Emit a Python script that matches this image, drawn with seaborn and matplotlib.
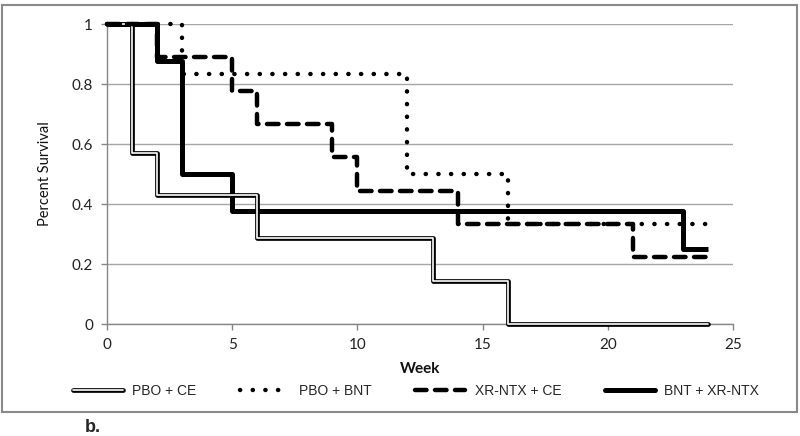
import matplotlib
matplotlib.use("Agg")
import matplotlib.pyplot as plt
import matplotlib.patches as mpatches
import numpy as np
import pandas as pd
import seaborn as sns

# step change points (week, survival) per group
pbo_ce_week = [0, 1, 2, 6, 13, 16, 24]
pbo_ce_surv = [1, 0.571, 0.429, 0.286, 0.143, 0, 0]

pbo_bnt_week = [0, 3, 12, 16, 24]
pbo_bnt_surv = [1, 0.833, 0.5, 0.333, 0.333]

xr_ce_week = [0, 2, 5, 6, 9, 10, 14, 21, 24]
xr_ce_surv = [1, 0.889, 0.778, 0.667, 0.556, 0.444, 0.333, 0.222, 0.222]

bnt_xr_week = [0, 2, 3, 5, 23, 24]
bnt_xr_surv = [1, 0.875, 0.5, 0.375, 0.25, 0.25]

labels = ["PBO + CE", "PBO + BNT", "XR-NTX + CE", "BNT + XR-NTX"]
x_ticks = [0, 5, 10, 15, 20, 25]
y_ticks = [0, 0.2, 0.4, 0.6, 0.8, 1]

GRID = "#a6a6a6"
SPINE = "#868686"
TICK_FONT = ["Lato", "DejaVu Sans"]
LEG_FONT = ["Liberation Sans Narrow", "Liberation Sans", "DejaVu Sans"]

DOT = (0, (0.05, 2.8))
DASH = (0, (2.6, 1.9))

sns.set_theme(style="white")
plt.rcParams["font.family"] = TICK_FONT


def frame(week, surv):
    return pd.DataFrame({"week": week, "surv": surv})


fig = plt.figure(figsize=(8, 4.36), dpi=100)
ax = fig.add_axes([107 / 800, 1 - 324 / 436, 626 / 800, 300 / 436])

common = dict(x="week", y="surv", ax=ax, estimator=None, drawstyle="steps-post",
              clip_on=False, legend=False)

# solid thick (drawn first, lies underneath)
sns.lineplot(data=frame(bnt_xr_week, bnt_xr_surv), color="black", lw=3.6,
             solid_capstyle="butt", zorder=3, **common)
# double line: black outline + white core
sns.lineplot(data=frame(pbo_ce_week, pbo_ce_surv), color="black", lw=3.4,
             zorder=4, **common)
sns.lineplot(data=frame(pbo_ce_week, pbo_ce_surv), color="white", lw=1.2,
             zorder=4.1, **common)
sns.lineplot(data=frame(pbo_bnt_week, pbo_bnt_surv), color="black", lw=3.2,
             linestyle=DOT, dash_capstyle="round", zorder=5, **common)
sns.lineplot(data=frame(xr_ce_week, xr_ce_surv), color="black", lw=3.2,
             linestyle=DASH, dash_capstyle="round", zorder=5, **common)

ax.set_xlim(0, 25)
ax.set_ylim(0, 1)
ax.set_xticks(x_ticks)
ax.set_yticks(y_ticks)
ax.set_yticklabels(["0", "0.2", "0.4", "0.6", "0.8", "1"])
ax.yaxis.grid(True, color=GRID, lw=1)
ax.xaxis.grid(False)
ax.set_axisbelow(True)
for side in ["top", "right"]:
    ax.spines[side].set_visible(False)
for side in ["left", "bottom"]:
    ax.spines[side].set_color(SPINE)
    ax.spines[side].set_linewidth(1)
ax.tick_params(axis="both", which="both", direction="out", length=4, width=1,
               color=SPINE, labelsize=11, labelcolor="#222222", pad=6,
               left=True, bottom=True)

ax.set_xlabel("Week", fontsize=11, fontweight="bold", color="#111111")
ax.xaxis.set_label_coords(0.5, -0.15)
ax.xaxis.label.set_va("center")
ax.set_ylabel("Percent Survival", fontsize=10.5, color="#111111")
ax.yaxis.set_label_coords(-0.099, 0.5)
ax.yaxis.label.set_va("center")

# legend handles
h_out = plt.Line2D([], [], color="black", lw=3.4)
h_in = plt.Line2D([], [], color="white", lw=1.2)
h_dot = plt.Line2D([], [], color="black", lw=3.2, linestyle=DOT,
                   dash_capstyle="round")
h_dash = plt.Line2D([], [], color="black", lw=3.2, linestyle=DASH,
                    dash_capstyle="round")
h_solid = plt.Line2D([], [], color="black", lw=3.6)
fig.legend([(h_out, h_in), h_dot, h_dash, h_solid], labels, loc="center",
           bbox_to_anchor=(0.52, 1 - 391 / 436), ncol=4, frameon=False,
           handlelength=3.6, handletextpad=0.7, columnspacing=3.1,
           prop={"family": LEG_FONT, "size": 10})

# chart border and panel letter
fig.patches.append(mpatches.Rectangle((2 / 800, 1 - 412 / 436), 795 / 800, 407 / 436,
                                      transform=fig.transFigure, fill=False,
                                      edgecolor="#8a8a8a", lw=1.5))
fig.text(85 / 800, 1 - 427 / 436, "b.", fontsize=13, fontweight="bold",
         family=["Liberation Sans", "DejaVu Sans"], va="center", ha="left")

fig.savefig("out.png", dpi=100, facecolor="white")
